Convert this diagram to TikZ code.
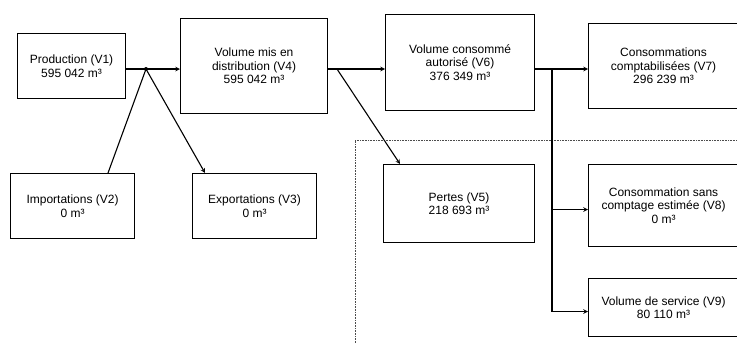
\documentclass[tikz,border=0pt]{standalone}
\usepackage{fontspec}
\setmainfont{Liberation Sans}
\usetikzlibrary{
  calc,
  positioning,
  arrows}

\begin{document}
\begin{tikzpicture}[
  x=1pt, y=-1pt,
  >=stealth,
  line width=1.1pt,
  every node/.style={anchor=north west,draw,align=center,inner sep=0pt,font=\fontsize{12}{13.5}\selectfont},
  box/.style={minimum width=#1},
  dots/.style={densely dotted,line width=0.6pt,black!70}
]%
  \useasboundingbox (0,0) rectangle (737,343);

  % upper row
  \node[box=108pt,minimum height=65pt] (vA) at (17,33) {Production (V1)\\595 042 m³};
  \node[box=147pt,minimum height=95pt] (vD) at (180,18) {Volume mis en\\distribution (V4)\\595 042 m³};
  \node[box=149pt,minimum height=96pt] (vF) at (385,14) {Volume consommé\\autorisé (V6)\\376 349 m³};
  \node[box=150pt,minimum height=85pt] (vG) at (588,23) {Consommations\\comptabilisées (V7)\\296 239 m³};

  % lower row
  \node[box=124pt,minimum height=65pt] (vB) at (10,173) {Importations (V2)\\0 m³};
  \node[box=124pt,minimum height=65pt] (vC) at (192,173) {Exportations (V3)\\0 m³};
  \node[box=151pt,minimum height=78pt] (vE) at (383,164) {Pertes (V5)\\218 693 m³};
  \node[box=150pt,minimum height=82pt] (vH) at (588,164) {Consommation sans\\comptage estimée (V8)\\0 m³};
  \node[box=150pt,minimum height=58pt] (vI) at (588,278) {Volume de service (V9)\\80 110 m³};

  \coordinate (jA) at (146,69);
  \coordinate (jB) at (337,69);
  \coordinate (jC) at (552,69);

  % dotted frame
  \draw[dots] (355,343) -- (355,140) -- (737,140);

  \draw[->] (vA.east |- jA) -- (vD.west |- jA);
  \fill (jA) circle (2pt);
  \draw ($(vB.north west)+(98,0)$) -- (jA);
  \draw[->] (jA) -- ($(vC.north west)+(13,0)$);

  \draw[->] (vD.east |- jA) -- (vF.west |- jA);
  \draw[->] (jB) -- ($(vE.north west)+(17,0)$);

  \draw[->] (vF.east |- jA) -- (vG.west |- jA);
  \draw[->] (jC) |- ($(vH.west)+(0,4)$);
  \draw[->] (jC) |- ($(vI.west)+(0,4)$);
%
\end{tikzpicture}
\end{document}
